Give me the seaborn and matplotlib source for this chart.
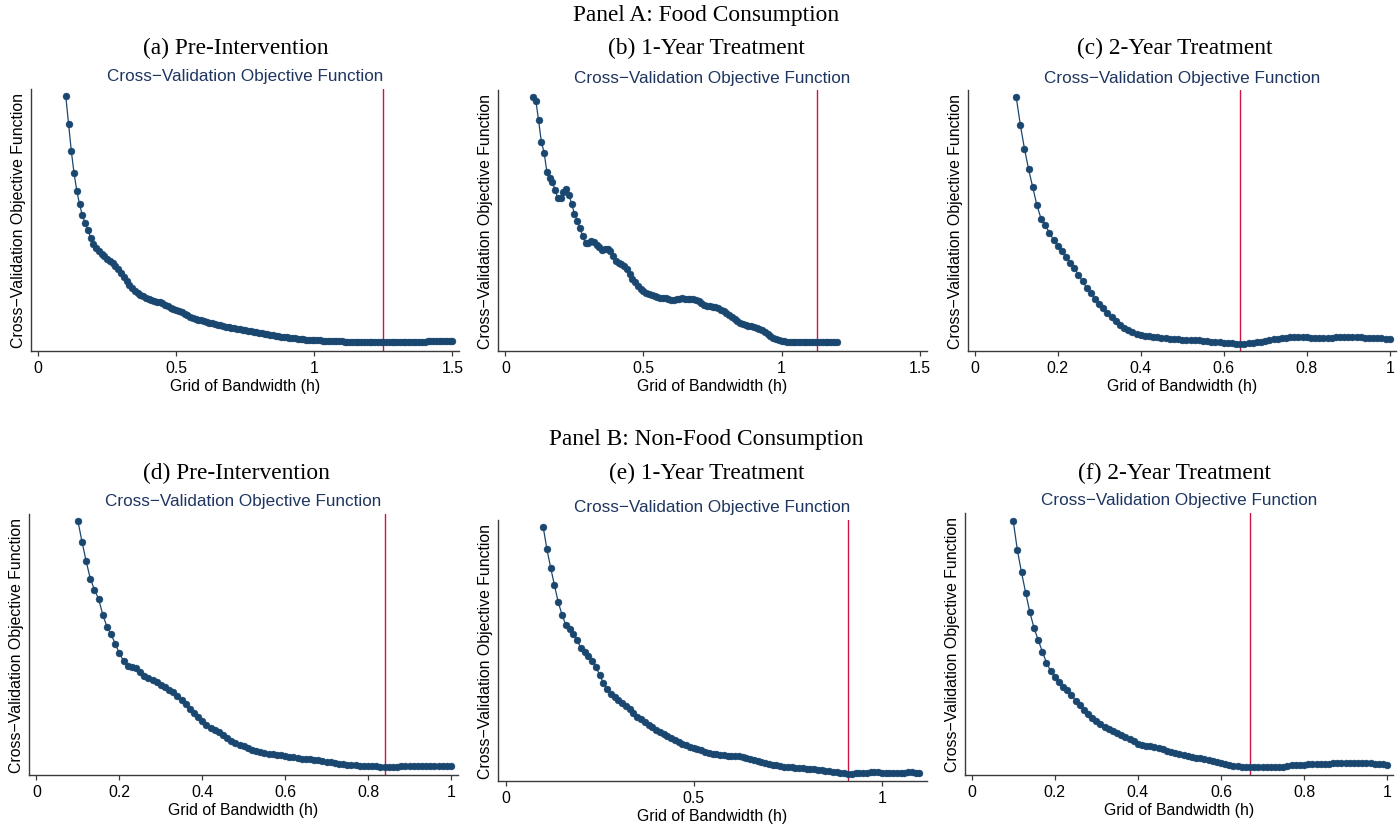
import numpy as np
import pandas as pd
import matplotlib
matplotlib.use("Agg")
import matplotlib.pyplot as plt
import seaborn as sns

# ---------------- data ----------------
grid_start = 0.10
grid_step = 0.01

# Cross-validation objective (arbitrary units)
cv_a = [808, 726, 644, 577, 525, 484, 451, 429, 408, 384,
        367, 354, 344, 336, 329, 322, 315, 308, 300, 291,
        280, 268, 255, 243, 233, 225, 218, 213, 209, 205,
        201, 198, 195, 193, 191, 188, 184, 180, 175, 171,
        167, 164, 161, 157, 153, 148, 143, 140, 138, 137,
        135, 133, 130, 128, 126, 124, 122, 120, 118, 116,
        115, 113, 111, 110, 108, 107, 105, 104, 102, 101,
        99, 98, 97, 95, 94, 92, 91, 90, 88, 87,
        86, 85, 84, 83, 82, 81, 80, 79, 79, 78,
        78, 77, 77, 76, 76, 75, 75, 75, 74, 74,
        74, 73, 73, 73, 73, 72, 72, 72, 72, 72,
        72, 71, 71, 71, 71, 71, 71, 71, 71, 72,
        72, 72, 72, 72, 72, 73, 73, 73, 73, 73,
        73, 74, 74, 74, 74, 74, 74, 74, 75, 75,
        75]

cv_b = [988, 976, 917, 852, 820, 762, 742, 730, 707, 682,
        682, 702, 710, 692, 665, 636, 615, 592, 568, 547,
        547, 555, 552, 543, 535, 528, 530, 529, 525, 510,
        495, 488, 484, 478, 470, 455, 440, 430, 420, 410,
        402, 397, 394, 391, 388, 385, 382, 382, 382, 380,
        377, 376, 378, 380, 382, 380, 379, 378, 378, 376,
        372, 366, 361, 358, 357, 356, 354, 351, 347, 343,
        337, 330, 324, 318, 313, 308, 304, 301, 299, 297,
        294, 291, 288, 285, 280, 274, 268, 263, 259, 256,
        254, 252, 251, 251, 250, 250, 250, 250, 249, 249,
        249, 249, 249, 249, 249, 249, 250, 250, 250, 251,
        251]

cv_c = [988, 904, 832, 770, 716, 662, 622, 602, 580, 559,
        540, 524, 507, 490, 473, 454, 434, 415, 398, 381,
        367, 353, 339, 327, 315, 304, 295, 288, 282, 277,
        273, 271, 269, 268, 267, 265, 263, 262, 261, 260,
        259, 258, 258, 258, 257, 256, 255, 253, 252, 251,
        250, 249, 248, 247, 247, 247, 248, 249, 251, 253,
        255, 257, 260, 262, 264, 265, 266, 266, 266, 266,
        266, 265, 265, 265, 265, 265, 265, 266, 266, 266,
        266, 266, 266, 266, 265, 265, 264, 263, 263, 262,
        261]

cv_d = [974, 911, 853, 800, 768, 740, 693, 657, 634, 606,
        577, 555, 539, 535, 532, 520, 510, 502, 496, 490,
        483, 476, 468, 460, 450, 438, 425, 410, 398, 386,
        374, 362, 354, 348, 340, 331, 323, 315, 309, 303,
        298, 293, 288, 284, 280, 277, 275, 274, 273, 271,
        269, 267, 265, 263, 261, 260, 259, 257, 256, 254,
        252, 250, 248, 246, 244, 243, 242, 241, 240, 240,
        239, 239, 238, 237, 236, 236, 237, 237, 238, 238,
        238, 238, 238, 239, 239, 239, 239, 239, 239, 239,
        239]

cv_e = [958, 890, 835, 782, 732, 694, 664, 650, 637, 619,
        594, 582, 570, 555, 537, 514, 489, 470, 455, 447,
        438, 430, 420, 410, 398, 388, 380, 372, 364, 356,
        348, 342, 336, 330, 325, 318, 312, 307, 302, 298,
        294, 290, 287, 283, 280, 277, 275, 273, 272, 271,
        270, 270, 269, 267, 264, 260, 257, 254, 251, 248,
        246, 244, 242, 240, 238, 237, 236, 235, 234, 233,
        232, 231, 230, 229, 227, 226, 224, 222, 221, 219,
        218, 217, 217, 218, 219, 220, 220, 221, 221, 221,
        220, 220, 220, 220, 220, 220, 220, 221, 221, 220,
        219]

cv_f = [974, 886, 819, 758, 700, 653, 617, 582, 549, 524,
        505, 490, 476, 466, 452, 435, 421, 408, 396, 384,
        373, 364, 357, 351, 345, 338, 332, 327, 321, 314,
        306, 302, 300, 298, 296, 293, 289, 285, 281, 277,
        274, 271, 268, 266, 264, 262, 260, 257, 254, 251,
        248, 245, 242, 240, 238, 237, 236, 235, 235, 235,
        235, 235, 235, 235, 236, 237, 239, 241, 242, 243,
        243, 244, 244, 245, 245, 246, 246, 247, 247, 248,
        248, 248, 248, 248, 248, 247, 247, 246, 245, 244,
        243]

series = [cv_a, cv_b, cv_c, cv_d, cv_e, cv_f]
optimal_h = [1.25, 1.13, 0.64, 0.84, 0.91, 0.67]
panel_titles = ["(a) Pre-Intervention", "(b) 1-Year Treatment", "(c) 2-Year Treatment",
                "(d) Pre-Intervention", "(e) 1-Year Treatment", "(f) 2-Year Treatment"]
row_titles = ["Panel A: Food Consumption", "Panel B: Non-Food Consumption"]
xticks_list = [[0, 0.5, 1, 1.5], [0, 0.5, 1, 1.5], [0, 0.2, 0.4, 0.6, 0.8, 1],
               [0, 0.2, 0.4, 0.6, 0.8, 1], [0, 0.5, 1], [0, 0.2, 0.4, 0.6, 0.8, 1]]
xticklabels_list = [["0", "0.5", "1", "1.5"], ["0", "0.5", "1", "1.5"],
                    ["0", "0.2", "0.4", "0.6", "0.8", "1"],
                    ["0", "0.2", "0.4", "0.6", "0.8", "1"], ["0", "0.5", "1"],
                    ["0", "0.2", "0.4", "0.6", "0.8", "1"]]
subtitle = "Cross\u2212Validation Objective Function"
ylab = "Cross\u2212Validation Objective Function"
xlab = "Grid of Bandwidth (h)"

# ---------------- style ----------------
sns.set_theme(style="white")
plt.rcParams["font.family"] = ["Liberation Sans", "DejaVu Sans"]
SERIF = ["Liberation Serif", "DejaVu Serif"]

W, H = 1399, 828
fig = plt.figure(figsize=(W / 100, H / 100), dpi=100)
fig.patch.set_facecolor("white")

navy = "#1a476f"
red = "#cf1441"
subcol = "#1e3560"

# axes boxes in pixels: left, right, top, bottom
boxes = [(31, 459, 90, 352), (498, 927, 91, 352), (968, 1396, 91, 352),
         (29, 458, 515, 776), (498, 927, 521, 782), (965, 1393, 514, 776)]
xlims = [(-0.026, 1.524), (-0.027, 1.527), (-0.016, 1.015),
         (-0.018, 1.017), (-0.02, 1.12), (-0.016, 1.014)]
ylims = [(45, 830), (223, 1008), (225, 1008), (212, 995), (195, 978), (212, 997)]
title_x = [236, 706, 1175, 236, 707, 1175]
title_y = [48, 48, 48, 473, 473, 473]
row_title_y = [16, 440]

for i, (vals, hopt) in enumerate(zip(series, optimal_h)):
    L, R, T, B = boxes[i]
    ax = fig.add_axes([L / W, 1 - B / H, (R - L) / W, (B - T) / H])
    h = np.round(grid_start + grid_step * np.arange(len(vals)), 2)
    df = pd.DataFrame({"h": h, "cv": vals})
    ax.axvline(hopt, color=red, lw=1.0, zorder=1)
    sns.lineplot(data=df, x="h", y="cv", ax=ax, color=navy, lw=0.9,
                 marker="o", markersize=5.0, markeredgewidth=0.3,
                 markeredgecolor=navy, markerfacecolor=navy, zorder=3)
    ax.set_xlim(*xlims[i])
    ax.set_ylim(*ylims[i])
    ax.set_xticks(xticks_list[i])
    ax.set_xticklabels(xticklabels_list[i])
    ax.set_yticks([])
    for s in ["top", "right"]:
        ax.spines[s].set_visible(False)
    for s in ["left", "bottom"]:
        ax.spines[s].set_color("#3a3a3a")
        ax.spines[s].set_linewidth(1.0)
    ax.tick_params(axis="x", length=3.5, width=0.9, color="#3a3a3a", pad=3,
                   labelsize=11.4, labelcolor="black", direction="out", bottom=True)
    ax.set_xlabel(xlab, fontsize=11.4, color="black", va="center")
    ax.xaxis.set_label_coords(0.5, -35.0 / (B - T))
    ax.set_ylabel(ylab, fontsize=11.4, color="black", va="center")
    ax.yaxis.set_label_coords(-12.5 / (R - L), 0.5)
    ax.set_facecolor("white")
    # subtitle
    fig.text((L + R) / 2 / W, 1 - (T - 13) / H, subtitle, ha="center", va="center",
             fontsize=12.3, color=subcol)
    fig.text(title_x[i] / W, 1 - title_y[i] / H, panel_titles[i], ha="center",
             va="center", fontsize=16.8, family=SERIF, color="black")

for t, y in zip(row_titles, row_title_y):
    fig.text(706 / W, 1 - y / H, t, ha="center", va="center", fontsize=16.8,
             family=SERIF, color="black")

fig.savefig("out.png", dpi=100, facecolor="white")
